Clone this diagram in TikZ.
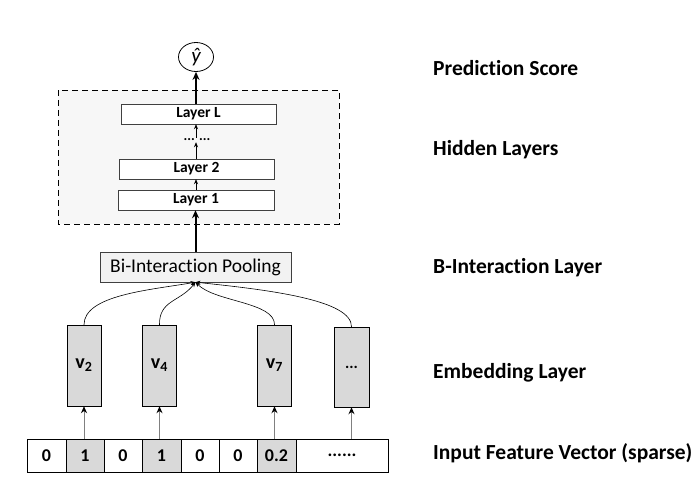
\documentclass[tikz,border=0pt]{standalone}
\usepackage{fontspec}
\setmainfont{Carlito}[Ligatures=NoCommon]
\usetikzlibrary{arrows.meta,shapes.geometric}

\definecolor{cellgray}{HTML}{D9D9D9}
\definecolor{poolgray}{HTML}{F2F2F2}
\definecolor{hidgray}{HTML}{F7F7F7}
\definecolor{edgegray}{HTML}{404040}

\tikzset{
  cell/.style={draw=black, minimum height=33pt, inner sep=0pt, font=\bfseries\fontsize{18}{18}\selectfont},
  embbox/.style={draw=black, fill=cellgray, minimum width=34pt, minimum height=81pt, inner sep=0pt, font=\bfseries\fontsize{20}{20}\selectfont},
  layerbox/.style={draw=edgegray, fill=white, minimum height=20pt, inner sep=0pt, font=\bfseries\fontsize{15.5}{15.5}\selectfont},
  sidelabel/.style={anchor=west, inner sep=0pt, font=\bfseries\fontsize{21.5}{21.5}\selectfont},
  thinarrow/.style={-{Stealth[length=5pt,width=4pt]}, line width=0.6pt},
  thickarrow/.style={-{Stealth[length=8pt,width=7pt]}, line width=2pt},
  inarrow/.style={draw=gray, -{Stealth[length=7pt,width=6pt,color=black]}, line width=1pt},
}

\begin{document}
\begin{tikzpicture}[x=1pt, y=-1pt]
  \useasboundingbox (0,0) rectangle (698,496);

  % Vettore di input
  \node[cell, minimum width=39pt] (c1) at (46.5,455.5) {0};
  \node[cell, minimum width=38pt, fill=cellgray] (c2) at (85,455.5) {1};
  \node[cell, minimum width=38pt] (c3) at (123,455.5) {0};
  \node[cell, minimum width=39pt, fill=cellgray] (c4) at (161.5,455.5) {1};
  \node[cell, minimum width=38pt] (c5) at (200,455.5) {0};
  \node[cell, minimum width=38pt] (c6) at (238,455.5) {0};
  \node[cell, minimum width=39pt, fill=cellgray] (c7) at (276.5,455.5) {0.2};
  \node[cell, minimum width=92pt] (c8) at (342,455.5) {......};

  % Embedding
  \node[embbox] (v2) at (84,365.5) {v\textsubscript{2}};
  \node[embbox] (v4) at (159.5,365.5) {v\textsubscript{4}};
  \node[embbox] (v7) at (274.5,365.5) {v\textsubscript{7}};
  \node[embbox, minimum width=35pt, minimum height=80pt, font=\bfseries\fontsize{16}{16}\selectfont] (vd) at (351.5,367) {...};

  \draw[inarrow] (v2.south |- c2.north) -- (v2.south);
  \draw[inarrow] (v4.south |- c4.north) -- (v4.south);
  \draw[inarrow] (v7.south |- c7.north) -- (v7.south);
  \draw[inarrow] (vd.south |- c8.north) -- (vd.south);

  % Bi-Interaction
  \node[draw=edgegray, fill=poolgray, minimum width=191pt, minimum height=30pt, inner sep=0pt,
        font=\fontsize{19.5}{19.5}\selectfont] (pool) at (195.5,267) {Bi-Interaction Pooling};

  \draw[thinarrow] (v2.north) .. controls (84,295) and (150,290) .. (pool.south);
  \draw[thinarrow] (v4.north) .. controls (159,300) and (180,302) .. (pool.south);
  \draw[thinarrow] (v7.north) .. controls (275,302) and (215,302) .. (pool.south);
  \draw[thinarrow] (vd.north) .. controls (352,300) and (270,290) .. (pool.south);

  % Hidden layers
  \draw[dash pattern=on 6pt off 4pt, line width=1pt, fill=hidgray] (58,90) rectangle (339,224);
  \node[layerbox, minimum width=156pt] (l1) at (196,200) {Layer 1};
  \node[layerbox, minimum width=155pt] (l2) at (196.5,169) {Layer 2};
  \node[inner sep=1pt, font=\bfseries\fontsize{14}{14}\selectfont] (ld) at (197,140) {... ...};
  \node[layerbox, minimum width=155pt] (lL) at (198.5,114) {Layer L};

  \draw[thickarrow] (pool.north) -- (pool.north |- l1.south);
  \draw[thinarrow] (l1.north -| 196,0) -- (l2.south -| 196,0);
  \draw[thinarrow] (l2.north -| 196,0) -- (ld.south -| 196,0);
  \draw[thinarrow] (ld.north -| 196,0) -- (lL.south -| 196,0);

  % Output
  \node[draw, ellipse, line width=0.8pt, minimum width=35pt, minimum height=29pt, inner sep=0pt,
        font=\itshape\fontsize{21}{21}\selectfont] (yhat) at (196,57) {ŷ};
  \draw[thickarrow] (lL.north -| yhat.south) -- (yhat.south);

  % Etichette
  \node[sidelabel] (lbout) at (433,68) {Prediction Score};
  \node[sidelabel] (lbhid) at (433,150) {Hidden Layers};
  \node[sidelabel] (lbbi) at (433,268) {B-Interaction Layer};
  \node[sidelabel] (lbemb) at (433,373) {Embedding Layer};
  \node[sidelabel] (lbin) at (433,453) {Input Feature Vector (sparse)};
\end{tikzpicture}
\end{document}
